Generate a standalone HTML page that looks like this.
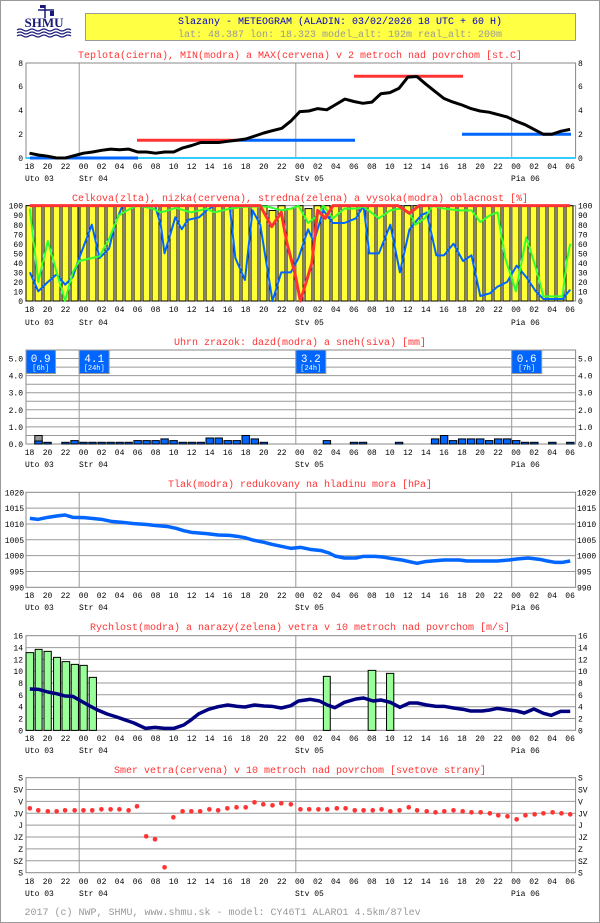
<!DOCTYPE html>
<html><head><meta charset="utf-8"><style>
html,body{margin:0;padding:0;background:#fff}
svg{display:block}
text{font-family:"Liberation Mono",monospace}
.t{font-size:10px;fill:#ff3333;text-anchor:middle}
.hl{font-size:8px;fill:#000;text-anchor:middle}
.dl{font-size:8px;fill:#000}
.yl{font-size:8px;fill:#000;text-anchor:end}
.yr{font-size:8px;fill:#000}
.fr{fill:none;stroke:#888;stroke-width:1}
.g{stroke:#999;stroke-width:1}
.ns{vector-effect:non-scaling-stroke;fill:none;stroke-linejoin:round}
</style></head><body>
<svg width="600" height="923" viewBox="0 0 600 923" xmlns="http://www.w3.org/2000/svg">
<rect x="0.5" y="0.5" width="599" height="922" fill="#fff" stroke="#999"/>
<!-- logo -->
<g fill="#1a1a7a" stroke="#1a1a7a">
<line x1="45" y1="5" x2="45" y2="18" stroke-width="1.5"/>
<line x1="38" y1="10" x2="54" y2="10" stroke-width="1.5"/>
<rect x="40" y="5" width="5" height="3" stroke="none"/>
<rect x="50" y="11" width="4" height="5" stroke="none"/>
<text x="44" y="27" text-anchor="middle" style="font-family:'Liberation Serif',serif;font-size:13px;font-weight:bold" stroke="none">SHMU</text>
<path d="M17 30 q3 -2 6 0 t6 0 t6 0 t6 0 t6 0 t6 0 t6 0 t6 0 t6 0 M17 33 q3 -2 6 0 t6 0 t6 0 t6 0 t6 0 t6 0 t6 0 t6 0 t6 0 M17 36 q3 -2 6 0 t6 0 t6 0 t6 0 t6 0 t6 0 t6 0 t6 0 t6 0" fill="none" stroke-width="1.2"/>
</g>
<rect x="85.5" y="13.5" width="490" height="27" fill="#ffff44" stroke="#999"/>
<text x="340" y="24" style="font-size:10px;fill:#0000cc;text-anchor:middle">Slazany - METEOGRAM (ALADIN: 03/02/2026 18 UTC + 60 H)</text>
<text x="340" y="37" style="font-size:10px;fill:#999;text-anchor:middle">lat: 48.387   lon: 18.323   model_alt: 192m   real_alt: 200m</text>

<!-- ============ TEMPERATURE ============ -->
<text class="t" x="300" y="58">Teplota(cierna), MIN(modra) a MAX(cervena) v 2 metroch nad povrchom [st.C]</text>
<line class="g" x1="79.2" y1="63" x2="79.2" y2="158"/><line class="g" x1="295.8" y1="63" x2="295.8" y2="158"/><line class="g" x1="511.7" y1="63" x2="511.7" y2="158"/>
<rect class="fr" x="26" y="63" width="549.6" height="95"/>
<line x1="26" y1="158" x2="575.6" y2="158" stroke="#33ccff" stroke-width="2"/>
<line x1="30" y1="158" x2="138" y2="158" stroke="#0066ff" stroke-width="3"/>
<line x1="137" y1="140.3" x2="240" y2="140.3" stroke="#ff3333" stroke-width="3"/>
<line x1="240" y1="140.3" x2="355" y2="140.3" stroke="#0066ff" stroke-width="3"/>
<line x1="354" y1="76.3" x2="463" y2="76.3" stroke="#ff3333" stroke-width="3"/>
<line x1="462" y1="134.3" x2="571" y2="134.3" stroke="#0066ff" stroke-width="3"/>
<g transform="translate(3.5,0)"><polyline fill="none" stroke="#000" stroke-width="3" stroke-linejoin="round" points="26,153.2 35,155 44,156.2 53,158 62,158 71,155.6 80,153.2 89.1,152 98.1,150.3 107.1,149.1 116.1,149.7 125.1,149.1 134.1,152 143.1,152 152.1,153.2 161.2,152 170.2,152 179.2,147.9 188.2,145.5 197.2,142.5 206.2,142.5 215.2,142.5 224.2,141.3 233.2,140.2 242.2,139 251.3,136 260.3,133 269.3,130.6 278.3,128.3 287.3,121.1 296.3,111.6 305.3,111 314.3,108.6 323.3,109.8 332.3,104.5 341.4,99.1 350.4,101.5 359.4,103.3 368.4,102.1 377.4,93.7 386.4,92.6 395.4,88.4 404.4,77.1 413.4,76.5 422.4,84.2 431.5,91.4 440.5,98.5 449.5,102.1 458.5,105 467.5,108.6 476.5,111 485.5,112.2 494.5,114.6 503.5,116.9 512.5,121.1 521.6,124.7 530.6,129.4 539.6,134.2 548.6,134.2 557.6,131.2 566.6,129.4"/></g>
<g class="yl"><text x="23" y="161">0</text><text x="23" y="137">2</text><text x="23" y="113">4</text><text x="23" y="89">6</text><text x="23" y="66">8</text></g>
<g class="yr"><text x="578" y="161">0</text><text x="578" y="137">2</text><text x="578" y="113">4</text><text x="578" y="89">6</text><text x="578" y="66">8</text></g>
<text class="hl" y="169"><tspan x="29.5">18</tspan><tspan x="47.5">20</tspan><tspan x="65.5">22</tspan><tspan x="83.6">00</tspan><tspan x="101.6">02</tspan><tspan x="119.6">04</tspan><tspan x="137.6">06</tspan><tspan x="155.6">08</tspan><tspan x="173.7">10</tspan><tspan x="191.7">12</tspan><tspan x="209.7">14</tspan><tspan x="227.7">16</tspan><tspan x="245.7">18</tspan><tspan x="263.8">20</tspan><tspan x="281.8">22</tspan><tspan x="299.8">00</tspan><tspan x="317.8">02</tspan><tspan x="335.8">04</tspan><tspan x="353.9">06</tspan><tspan x="371.9">08</tspan><tspan x="389.9">10</tspan><tspan x="407.9">12</tspan><tspan x="425.9">14</tspan><tspan x="444">16</tspan><tspan x="462">18</tspan><tspan x="480">20</tspan><tspan x="498">22</tspan><tspan x="516">00</tspan><tspan x="534.1">02</tspan><tspan x="552.1">04</tspan><tspan x="570.1">06</tspan></text>
<text class="dl" y="181"><tspan x="25">Uto 03</tspan><tspan x="79">Str 04</tspan><tspan x="295">Stv 05</tspan><tspan x="511">Pia 06</tspan></text>

<!-- ============ CLOUDS ============ -->
<text class="t" x="300" y="201">Celkova(zlta), nizka(cervena), stredna(zelena) a vysoka(modra) oblacnost [%]</text>
<rect class="fr" x="26" y="205.7" width="549.6" height="95.3"/>
<g fill="#ffff33" stroke="#000" stroke-width="1">
<rect x="26" y="205.7" width="7" height="95.3"/><rect x="35" y="205.7" width="7" height="95.3"/><rect x="44" y="205.7" width="7" height="95.3"/><rect x="53" y="205.7" width="7" height="95.3"/><rect x="62" y="205.7" width="7" height="95.3"/><rect x="71" y="205.7" width="7" height="95.3"/><rect x="80" y="205.7" width="7" height="95.3"/><rect x="89" y="205.7" width="7" height="95.3"/><rect x="98" y="205.7" width="7" height="95.3"/><rect x="107" y="205.7" width="7" height="95.3"/>
<rect x="116" y="205.7" width="7" height="95.3"/><rect x="125" y="205.7" width="7" height="95.3"/><rect x="134" y="205.7" width="7" height="95.3"/><rect x="143" y="205.7" width="7" height="95.3"/><rect x="152" y="205.7" width="7" height="95.3"/><rect x="161" y="205.7" width="7" height="95.3"/><rect x="170" y="205.7" width="7" height="95.3"/><rect x="179" y="205.7" width="7" height="95.3"/><rect x="188" y="205.7" width="7" height="95.3"/><rect x="197" y="205.7" width="7" height="95.3"/>
<rect x="206" y="205.7" width="7" height="95.3"/><rect x="215" y="205.7" width="7" height="95.3"/><rect x="224" y="205.7" width="7" height="95.3"/><rect x="233" y="205.7" width="7" height="95.3"/><rect x="242" y="205.7" width="7" height="95.3"/><rect x="251" y="205.7" width="7" height="95.3"/><rect x="260" y="205.7" width="7" height="95.3"/><rect x="269" y="210.5" width="7" height="90.5"/><rect x="278" y="205.7" width="7" height="95.3"/><rect x="287" y="208.6" width="7" height="92.4"/>
<rect x="296" y="205.7" width="7" height="95.3"/><rect x="305" y="208.6" width="7" height="92.4"/><rect x="314" y="205.7" width="7" height="95.3"/><rect x="323" y="205.7" width="7" height="95.3"/><rect x="332" y="205.7" width="7" height="95.3"/><rect x="341" y="205.7" width="7" height="95.3"/><rect x="350" y="205.7" width="7" height="95.3"/><rect x="359" y="205.7" width="7" height="95.3"/><rect x="368" y="205.7" width="7" height="95.3"/><rect x="377" y="205.7" width="7" height="95.3"/>
<rect x="386" y="205.7" width="7" height="95.3"/><rect x="395" y="205.7" width="7" height="95.3"/><rect x="404" y="205.7" width="7" height="95.3"/><rect x="413" y="205.7" width="7" height="95.3"/><rect x="422" y="205.7" width="7" height="95.3"/><rect x="431" y="205.7" width="7" height="95.3"/><rect x="440" y="205.7" width="7" height="95.3"/><rect x="449" y="205.7" width="7" height="95.3"/><rect x="458" y="205.7" width="7" height="95.3"/><rect x="467" y="205.7" width="7" height="95.3"/>
<rect x="476" y="205.7" width="7" height="95.3"/><rect x="485" y="205.7" width="7" height="95.3"/><rect x="494" y="205.7" width="7" height="95.3"/><rect x="503" y="205.7" width="7" height="95.3"/><rect x="512" y="205.7" width="7" height="95.3"/><rect x="521" y="205.7" width="7" height="95.3"/><rect x="530" y="205.7" width="7" height="95.3"/><rect x="539" y="205.7" width="7" height="95.3"/><rect x="548" y="205.7" width="7" height="95.3"/><rect x="557" y="205.7" width="7" height="95.3"/><rect x="566" y="205.7" width="7" height="95.3"/>
</g>
<line x1="79.2" y1="205.7" x2="79.2" y2="301" stroke="#777" stroke-width="1.5"/><line x1="295.8" y1="205.7" x2="295.8" y2="301" stroke="#777" stroke-width="1.5"/><line x1="511.7" y1="205.7" x2="511.7" y2="301" stroke="#777" stroke-width="1.5"/>
<g transform="translate(0,190) scale(0.38270,0.33333)">
<polyline class="ns" stroke="#0066ff" stroke-width="2" points="78,247 100,304 125,276 148,253 170,284 190,261 207,204 240,104 260,204 285,176 300,104 320,47 350,47 380,47 405,47 420,104 430,190 445,133 458,82 475,118 490,90 520,82 540,61 560,47 580,47 600,47 615,204 640,270 660,61 680,104 700,247 712,333 735,247 760,247 780,204 805,118 820,156 845,61 858,82 870,99 900,99 930,85 950,47 965,190 990,190 1020,104 1045,247 1070,118 1100,76 1115,68 1140,196 1160,196 1185,161 1210,213 1232,196 1255,318 1280,310 1300,290 1325,276 1350,227 1375,261 1400,304 1420,327 1440,327 1470,327 1490,299"/>
<polyline class="ns" stroke="#33ff33" stroke-width="2" points="78,56 100,276 125,153 148,247 170,333 190,247 207,213 240,204 260,199 285,147 310,76 340,56 360,47 400,56 420,67 440,61 460,53 480,61 500,67 540,56 560,67 600,56 640,50 680,50 700,50 735,61 760,56 780,47 805,99 830,76 845,47 870,85 900,56 930,56 950,50 990,85 1020,61 1045,56 1070,67 1085,104 1110,85 1130,47 1160,56 1200,61 1232,61 1255,96 1280,76 1300,67 1320,204 1348,304 1375,142 1400,233 1420,319 1440,319 1470,319 1480,219 1490,161"/>
<polyline class="ns" stroke="#ff3333" stroke-width="3" points="78,47 680,47 710,110 735,67 750,161 770,247 785,333 800,276 815,219 830,61 850,85 870,47 1040,47 1070,70 1095,47 1490,47"/>
</g>
<g class="yl"><text x="23" y="304">0</text><text x="23" y="294.5">10</text><text x="23" y="285">20</text><text x="23" y="275.4">30</text><text x="23" y="265.9">40</text><text x="23" y="256.4">50</text><text x="23" y="246.8">60</text><text x="23" y="237.3">70</text><text x="23" y="227.8">80</text><text x="23" y="218.2">90</text><text x="23" y="208.7">100</text></g>
<g class="yr"><text x="578" y="304">0</text><text x="578" y="294.5">10</text><text x="578" y="285">20</text><text x="578" y="275.4">30</text><text x="578" y="265.9">40</text><text x="578" y="256.4">50</text><text x="578" y="246.8">60</text><text x="578" y="237.3">70</text><text x="578" y="227.8">80</text><text x="578" y="218.2">90</text><text x="578" y="208.7">100</text></g>
<text class="hl" y="312"><tspan x="29.5">18</tspan><tspan x="47.5">20</tspan><tspan x="65.5">22</tspan><tspan x="83.6">00</tspan><tspan x="101.6">02</tspan><tspan x="119.6">04</tspan><tspan x="137.6">06</tspan><tspan x="155.6">08</tspan><tspan x="173.7">10</tspan><tspan x="191.7">12</tspan><tspan x="209.7">14</tspan><tspan x="227.7">16</tspan><tspan x="245.7">18</tspan><tspan x="263.8">20</tspan><tspan x="281.8">22</tspan><tspan x="299.8">00</tspan><tspan x="317.8">02</tspan><tspan x="335.8">04</tspan><tspan x="353.9">06</tspan><tspan x="371.9">08</tspan><tspan x="389.9">10</tspan><tspan x="407.9">12</tspan><tspan x="425.9">14</tspan><tspan x="444">16</tspan><tspan x="462">18</tspan><tspan x="480">20</tspan><tspan x="498">22</tspan><tspan x="516">00</tspan><tspan x="534.1">02</tspan><tspan x="552.1">04</tspan><tspan x="570.1">06</tspan></text>
<text class="dl" y="325"><tspan x="25">Uto 03</tspan><tspan x="79">Str 04</tspan><tspan x="295">Stv 05</tspan><tspan x="511">Pia 06</tspan></text>

<!-- ============ PRECIP ============ -->
<text class="t" x="300" y="345">Uhrn zrazok: dazd(modra) a sneh(siva) [mm]</text>
<g class="g"><line x1="26" x2="575.6" y1="435.5" y2="435.5"/><line x1="26" x2="575.6" y1="426.9" y2="426.9"/><line x1="26" x2="575.6" y1="418.4" y2="418.4"/><line x1="26" x2="575.6" y1="409.8" y2="409.8"/><line x1="26" x2="575.6" y1="401.3" y2="401.3"/><line x1="26" x2="575.6" y1="392.7" y2="392.7"/><line x1="26" x2="575.6" y1="384.2" y2="384.2"/><line x1="26" x2="575.6" y1="375.6" y2="375.6"/><line x1="26" x2="575.6" y1="367.1" y2="367.1"/><line x1="26" x2="575.6" y1="358.5" y2="358.5"/>
<line x1="79.2" y1="350" x2="79.2" y2="444"/><line x1="295.8" y1="350" x2="295.8" y2="444"/><line x1="511.7" y1="350" x2="511.7" y2="444"/></g>
<rect class="fr" x="26" y="350" width="549.6" height="94"/>
<g fill="#0066ff" stroke="#000" stroke-width="1">
<rect x="34.8" y="435.5" width="7.4" height="8.5" fill="#999"/><rect x="34.8" y="441" width="7.4" height="3"/>
<rect x="43.8" y="442.3" width="7.4" height="1.7"/>
<rect x="61.8" y="442.3" width="7.4" height="1.7"/><rect x="70.8" y="440.6" width="7.4" height="3.4"/>
<rect x="79.8" y="442.3" width="7.4" height="1.7"/><rect x="88.8" y="442.3" width="7.4" height="1.7"/><rect x="97.9" y="442.3" width="7.4" height="1.7"/><rect x="106.9" y="442.3" width="7.4" height="1.7"/><rect x="115.9" y="442.3" width="7.4" height="1.7"/><rect x="124.9" y="442.3" width="7.4" height="1.7"/>
<rect x="133.9" y="440.6" width="7.4" height="3.4"/><rect x="142.9" y="440.6" width="7.4" height="3.4"/><rect x="151.9" y="440.6" width="7.4" height="3.4"/><rect x="160.9" y="438.9" width="7.4" height="5.1"/><rect x="169.9" y="440.6" width="7.4" height="3.4"/><rect x="179" y="442.3" width="7.4" height="1.7"/><rect x="188" y="442.3" width="7.4" height="1.7"/><rect x="197" y="442.3" width="7.4" height="1.7"/>
<rect x="206" y="438" width="7.4" height="6"/><rect x="215" y="438" width="7.4" height="6"/><rect x="224" y="440.6" width="7.4" height="3.4"/><rect x="233" y="440.6" width="7.4" height="3.4"/><rect x="242" y="435.5" width="7.4" height="8.5"/><rect x="251.1" y="438.9" width="7.4" height="5.1"/><rect x="260.1" y="442.3" width="7.4" height="1.7"/>
<rect x="323.2" y="440.6" width="7.4" height="3.4"/><rect x="350.3" y="442.3" width="7.4" height="1.7"/><rect x="359.3" y="442.3" width="7.4" height="1.7"/><rect x="395.4" y="442.3" width="7.4" height="1.7"/>
<rect x="431.4" y="438.9" width="7.4" height="5.1"/><rect x="440.4" y="435.5" width="7.4" height="8.5"/><rect x="449.4" y="440.6" width="7.4" height="3.4"/><rect x="458.4" y="438.9" width="7.4" height="5.1"/><rect x="467.5" y="438.9" width="7.4" height="5.1"/><rect x="476.5" y="438.9" width="7.4" height="5.1"/><rect x="485.5" y="440.6" width="7.4" height="3.4"/><rect x="494.5" y="438.9" width="7.4" height="5.1"/><rect x="503.5" y="438.9" width="7.4" height="5.1"/>
<rect x="512.5" y="440.6" width="7.4" height="3.4"/><rect x="521.5" y="442.3" width="7.4" height="1.7"/><rect x="530.6" y="442.3" width="7.4" height="1.7"/><rect x="548.6" y="442.3" width="7.4" height="1.7"/><rect x="566.6" y="442.3" width="7.4" height="1.7"/>
</g>
<g fill="#0066ff" stroke="#999" stroke-width="1">
<rect x="26" y="350" width="29.5" height="23.5"/><rect x="79.2" y="350" width="30" height="23.5"/><rect x="295.8" y="350" width="30" height="23.5"/><rect x="511.7" y="350" width="30" height="23.5"/></g>
<g fill="#fff" text-anchor="middle">
<text x="40.7" y="362" style="font-size:11px">0.9</text><text x="40.7" y="370" style="font-size:7px">[6h]</text>
<text x="94.2" y="362" style="font-size:11px">4.1</text><text x="94.2" y="370" style="font-size:7px">[24h]</text>
<text x="310.8" y="362" style="font-size:11px">3.2</text><text x="310.8" y="370" style="font-size:7px">[24h]</text>
<text x="526.7" y="362" style="font-size:11px">0.6</text><text x="526.7" y="370" style="font-size:7px">[7h]</text></g>
<g class="yl"><text x="23" y="447">0.0</text><text x="23" y="429.9">1.0</text><text x="23" y="412.8">2.0</text><text x="23" y="395.7">3.0</text><text x="23" y="378.6">4.0</text><text x="23" y="361.5">5.0</text></g>
<g class="yr"><text x="578" y="447">0.0</text><text x="578" y="429.9">1.0</text><text x="578" y="412.8">2.0</text><text x="578" y="395.7">3.0</text><text x="578" y="378.6">4.0</text><text x="578" y="361.5">5.0</text></g>
<text class="hl" y="455"><tspan x="29.5">18</tspan><tspan x="47.5">20</tspan><tspan x="65.5">22</tspan><tspan x="83.6">00</tspan><tspan x="101.6">02</tspan><tspan x="119.6">04</tspan><tspan x="137.6">06</tspan><tspan x="155.6">08</tspan><tspan x="173.7">10</tspan><tspan x="191.7">12</tspan><tspan x="209.7">14</tspan><tspan x="227.7">16</tspan><tspan x="245.7">18</tspan><tspan x="263.8">20</tspan><tspan x="281.8">22</tspan><tspan x="299.8">00</tspan><tspan x="317.8">02</tspan><tspan x="335.8">04</tspan><tspan x="353.9">06</tspan><tspan x="371.9">08</tspan><tspan x="389.9">10</tspan><tspan x="407.9">12</tspan><tspan x="425.9">14</tspan><tspan x="444">16</tspan><tspan x="462">18</tspan><tspan x="480">20</tspan><tspan x="498">22</tspan><tspan x="516">00</tspan><tspan x="534.1">02</tspan><tspan x="552.1">04</tspan><tspan x="570.1">06</tspan></text>
<text class="dl" y="467"><tspan x="25">Uto 03</tspan><tspan x="79">Str 04</tspan><tspan x="295">Stv 05</tspan><tspan x="511">Pia 06</tspan></text>

<!-- ============ PRESSURE ============ -->
<text class="t" x="300" y="487">Tlak(modra) redukovany na hladinu mora [hPa]</text>
<g class="g"><line x1="26" x2="575.6" y1="571.5" y2="571.5"/><line x1="26" x2="575.6" y1="555.6" y2="555.6"/><line x1="26" x2="575.6" y1="539.8" y2="539.8"/><line x1="26" x2="575.6" y1="524" y2="524"/><line x1="26" x2="575.6" y1="508.1" y2="508.1"/>
<line x1="79.2" y1="492.3" x2="79.2" y2="587.3"/><line x1="295.8" y1="492.3" x2="295.8" y2="587.3"/><line x1="511.7" y1="492.3" x2="511.7" y2="587.3"/></g>
<rect class="fr" x="26" y="492.3" width="549.6" height="95"/>
<g transform="translate(0,470) scale(0.38270,0.33333)">
<polyline class="ns" stroke="#0066ff" stroke-width="3.5" points="78,145 100,148 125,142 148,138 170,135 190,142 220,143 240,145 265,148 290,154 320,157 350,161 380,163 410,167 440,170 460,175 480,182 500,187 540,191 570,195 600,196 620,199 640,203 660,210 690,217 710,223 735,229 760,235 785,232 810,238 840,242 860,249 875,258 900,264 930,264 950,259 980,259 1000,261 1020,265 1050,270 1070,275 1090,280 1110,275 1140,272 1160,270 1200,270 1220,273 1260,273 1300,273 1330,270 1350,267 1380,264 1410,268 1430,273 1450,277 1470,277 1490,273"/>
</g>
<g class="yl"><text x="24" y="590.3">990</text><text x="24" y="574.5">995</text><text x="24" y="558.6">1000</text><text x="24" y="542.8">1005</text><text x="24" y="527">1010</text><text x="24" y="511.1">1015</text><text x="24" y="495.3">1020</text></g>
<g class="yr"><text x="577" y="590.3">990</text><text x="577" y="574.5">995</text><text x="577" y="558.6">1000</text><text x="577" y="542.8">1005</text><text x="577" y="527">1010</text><text x="577" y="511.1">1015</text><text x="577" y="495.3">1020</text></g>
<text class="hl" y="598"><tspan x="29.5">18</tspan><tspan x="47.5">20</tspan><tspan x="65.5">22</tspan><tspan x="83.6">00</tspan><tspan x="101.6">02</tspan><tspan x="119.6">04</tspan><tspan x="137.6">06</tspan><tspan x="155.6">08</tspan><tspan x="173.7">10</tspan><tspan x="191.7">12</tspan><tspan x="209.7">14</tspan><tspan x="227.7">16</tspan><tspan x="245.7">18</tspan><tspan x="263.8">20</tspan><tspan x="281.8">22</tspan><tspan x="299.8">00</tspan><tspan x="317.8">02</tspan><tspan x="335.8">04</tspan><tspan x="353.9">06</tspan><tspan x="371.9">08</tspan><tspan x="389.9">10</tspan><tspan x="407.9">12</tspan><tspan x="425.9">14</tspan><tspan x="444">16</tspan><tspan x="462">18</tspan><tspan x="480">20</tspan><tspan x="498">22</tspan><tspan x="516">00</tspan><tspan x="534.1">02</tspan><tspan x="552.1">04</tspan><tspan x="570.1">06</tspan></text>
<text class="dl" y="610"><tspan x="25">Uto 03</tspan><tspan x="79">Str 04</tspan><tspan x="295">Stv 05</tspan><tspan x="511">Pia 06</tspan></text>

<!-- ============ WIND SPEED ============ -->
<text class="t" x="300" y="630">Rychlost(modra) a narazy(zelena) vetra v 10 metroch nad povrchom [m/s]</text>
<g class="g"><line x1="26" x2="575.6" y1="718.5" y2="718.5"/><line x1="26" x2="575.6" y1="706.7" y2="706.7"/><line x1="26" x2="575.6" y1="694.8" y2="694.8"/><line x1="26" x2="575.6" y1="683" y2="683"/><line x1="26" x2="575.6" y1="671.2" y2="671.2"/><line x1="26" x2="575.6" y1="659.4" y2="659.4"/><line x1="26" x2="575.6" y1="647.6" y2="647.6"/>
<line x1="79.2" y1="635.7" x2="79.2" y2="730.3"/><line x1="295.8" y1="635.7" x2="295.8" y2="730.3"/><line x1="511.7" y1="635.7" x2="511.7" y2="730.3"/></g>
<rect class="fr" x="26" y="635.7" width="549.6" height="94.6"/>
<g transform="translate(0,615) scale(0.38270,0.33333)">
<g fill="#99ff99" stroke="#000" stroke-width="1" style="vector-effect:non-scaling-stroke">
<rect x="68" y="113" width="20" height="233" vector-effect="non-scaling-stroke"/><rect x="92" y="103" width="18" height="243" vector-effect="non-scaling-stroke"/><rect x="115" y="109" width="19" height="237" vector-effect="non-scaling-stroke"/><rect x="140" y="127" width="18" height="219" vector-effect="non-scaling-stroke"/><rect x="162" y="140" width="20" height="206" vector-effect="non-scaling-stroke"/><rect x="186" y="148" width="19" height="198" vector-effect="non-scaling-stroke"/><rect x="209" y="151" width="19" height="195" vector-effect="non-scaling-stroke"/><rect x="233" y="187" width="19" height="159" vector-effect="non-scaling-stroke"/>
<rect x="845" y="184" width="18" height="162" vector-effect="non-scaling-stroke"/><rect x="962" y="166" width="20" height="180" vector-effect="non-scaling-stroke"/><rect x="1010" y="175" width="19" height="171" vector-effect="non-scaling-stroke"/>
</g>
<polyline class="ns" stroke="#000080" stroke-width="3.5" points="78,222 100,223 125,231 148,236 170,243 190,244 207,255 230,270 255,285 280,297 305,306 330,316 350,324 380,340 405,337 430,340 455,340 480,330 500,314 520,296 545,283 570,275 595,270 620,274 640,276 665,270 690,273 710,274 735,279 760,272 780,258 810,253 835,258 855,270 875,278 900,262 930,252 950,249 975,258 995,255 1020,262 1045,277 1070,264 1090,264 1115,270 1140,274 1160,274 1185,279 1210,283 1230,288 1260,288 1280,285 1300,280 1330,285 1350,288 1370,294 1395,282 1420,295 1440,301 1465,289 1490,289"/>
</g>
<g class="yl"><text x="23" y="733.3">0</text><text x="23" y="721.5">2</text><text x="23" y="709.7">4</text><text x="23" y="697.8">6</text><text x="23" y="686">8</text><text x="23" y="674.2">10</text><text x="23" y="662.4">12</text><text x="23" y="650.6">14</text><text x="23" y="638.7">16</text></g>
<g class="yr"><text x="578" y="733.3">0</text><text x="578" y="721.5">2</text><text x="578" y="709.7">4</text><text x="578" y="697.8">6</text><text x="578" y="686">8</text><text x="578" y="674.2">10</text><text x="578" y="662.4">12</text><text x="578" y="650.6">14</text><text x="578" y="638.7">16</text></g>
<text class="hl" y="741"><tspan x="29.5">18</tspan><tspan x="47.5">20</tspan><tspan x="65.5">22</tspan><tspan x="83.6">00</tspan><tspan x="101.6">02</tspan><tspan x="119.6">04</tspan><tspan x="137.6">06</tspan><tspan x="155.6">08</tspan><tspan x="173.7">10</tspan><tspan x="191.7">12</tspan><tspan x="209.7">14</tspan><tspan x="227.7">16</tspan><tspan x="245.7">18</tspan><tspan x="263.8">20</tspan><tspan x="281.8">22</tspan><tspan x="299.8">00</tspan><tspan x="317.8">02</tspan><tspan x="335.8">04</tspan><tspan x="353.9">06</tspan><tspan x="371.9">08</tspan><tspan x="389.9">10</tspan><tspan x="407.9">12</tspan><tspan x="425.9">14</tspan><tspan x="444">16</tspan><tspan x="462">18</tspan><tspan x="480">20</tspan><tspan x="498">22</tspan><tspan x="516">00</tspan><tspan x="534.1">02</tspan><tspan x="552.1">04</tspan><tspan x="570.1">06</tspan></text>
<text class="dl" y="753"><tspan x="25">Uto 03</tspan><tspan x="79">Str 04</tspan><tspan x="295">Stv 05</tspan><tspan x="511">Pia 06</tspan></text>

<!-- ============ WIND DIRECTION ============ -->
<text class="t" x="300" y="773">Smer vetra(cervena) v 10 metroch nad povrchom [svetove strany]</text>
<g class="g"><line x1="26" x2="575.6" y1="789.5" y2="789.5"/><line x1="26" x2="575.6" y1="801.4" y2="801.4"/><line x1="26" x2="575.6" y1="813.3" y2="813.3"/><line x1="26" x2="575.6" y1="825.1" y2="825.1"/><line x1="26" x2="575.6" y1="837" y2="837"/><line x1="26" x2="575.6" y1="848.9" y2="848.9"/><line x1="26" x2="575.6" y1="860.8" y2="860.8"/>
<line x1="79.2" y1="777.7" x2="79.2" y2="872.7"/><line x1="295.8" y1="777.7" x2="295.8" y2="872.7"/><line x1="511.7" y1="777.7" x2="511.7" y2="872.7"/></g>
<rect class="fr" x="26" y="777.7" width="549.6" height="95"/>
<g transform="translate(0,760) scale(0.38270,0.33333)" fill="#ff3333">
<ellipse cx="78" cy="145" rx="6" ry="7"/><ellipse cx="100" cy="151" rx="6" ry="7"/><ellipse cx="125" cy="154" rx="6" ry="7"/><ellipse cx="148" cy="154" rx="6" ry="7"/><ellipse cx="170" cy="151" rx="6" ry="7"/><ellipse cx="195" cy="151" rx="6" ry="7"/><ellipse cx="218" cy="151" rx="6" ry="7"/><ellipse cx="241" cy="151" rx="6" ry="7"/><ellipse cx="265" cy="148" rx="6" ry="7"/><ellipse cx="289" cy="148" rx="6" ry="7"/><ellipse cx="312" cy="148" rx="6" ry="7"/><ellipse cx="336" cy="151" rx="6" ry="7"/><ellipse cx="358" cy="139" rx="6" ry="7"/><ellipse cx="382" cy="229" rx="6" ry="7"/><ellipse cx="405" cy="238" rx="6" ry="7"/><ellipse cx="430" cy="322" rx="6" ry="7"/><ellipse cx="453" cy="172" rx="6" ry="7"/><ellipse cx="477" cy="154" rx="6" ry="7"/><ellipse cx="500" cy="154" rx="6" ry="7"/><ellipse cx="523" cy="154" rx="6" ry="7"/><ellipse cx="547" cy="148" rx="6" ry="7"/><ellipse cx="570" cy="151" rx="6" ry="7"/><ellipse cx="594" cy="145" rx="6" ry="7"/><ellipse cx="618" cy="142" rx="6" ry="7"/><ellipse cx="642" cy="142" rx="6" ry="7"/><ellipse cx="665" cy="127" rx="6" ry="7"/><ellipse cx="688" cy="133" rx="6" ry="7"/><ellipse cx="712" cy="136" rx="6" ry="7"/><ellipse cx="735" cy="130" rx="6" ry="7"/><ellipse cx="760" cy="133" rx="6" ry="7"/><ellipse cx="785" cy="148" rx="6" ry="7"/><ellipse cx="808" cy="148" rx="6" ry="7"/><ellipse cx="832" cy="148" rx="6" ry="7"/><ellipse cx="855" cy="148" rx="6" ry="7"/><ellipse cx="880" cy="145" rx="6" ry="7"/><ellipse cx="903" cy="145" rx="6" ry="7"/><ellipse cx="927" cy="151" rx="6" ry="7"/><ellipse cx="950" cy="151" rx="6" ry="7"/><ellipse cx="974" cy="151" rx="6" ry="7"/><ellipse cx="997" cy="148" rx="6" ry="7"/><ellipse cx="1020" cy="154" rx="6" ry="7"/><ellipse cx="1044" cy="151" rx="6" ry="7"/><ellipse cx="1068" cy="142" rx="6" ry="7"/><ellipse cx="1090" cy="151" rx="6" ry="7"/><ellipse cx="1115" cy="154" rx="6" ry="7"/><ellipse cx="1138" cy="157" rx="6" ry="7"/><ellipse cx="1161" cy="154" rx="6" ry="7"/><ellipse cx="1185" cy="151" rx="6" ry="7"/><ellipse cx="1209" cy="154" rx="6" ry="7"/><ellipse cx="1232" cy="157" rx="6" ry="7"/><ellipse cx="1256" cy="157" rx="6" ry="7"/><ellipse cx="1280" cy="160" rx="6" ry="7"/><ellipse cx="1302" cy="166" rx="6" ry="7"/><ellipse cx="1326" cy="169" rx="6" ry="7"/><ellipse cx="1350" cy="178" rx="6" ry="7"/><ellipse cx="1373" cy="166" rx="6" ry="7"/><ellipse cx="1397" cy="163" rx="6" ry="7"/><ellipse cx="1420" cy="160" rx="6" ry="7"/><ellipse cx="1444" cy="157" rx="6" ry="7"/><ellipse cx="1467" cy="160" rx="6" ry="7"/><ellipse cx="1490" cy="163" rx="6" ry="7"/>
</g>
<g class="yl"><text x="23" y="780.7">S</text><text x="23" y="792.5">SV</text><text x="23" y="804.4">V</text><text x="23" y="816.3">JV</text><text x="23" y="828.1">J</text><text x="23" y="840">JZ</text><text x="23" y="851.9">Z</text><text x="23" y="863.8">SZ</text><text x="23" y="875.7">S</text></g>
<g class="yr"><text x="578" y="780.7">S</text><text x="578" y="792.5">SV</text><text x="578" y="804.4">V</text><text x="578" y="816.3">JV</text><text x="578" y="828.1">J</text><text x="578" y="840">JZ</text><text x="578" y="851.9">Z</text><text x="578" y="863.8">SZ</text><text x="578" y="875.7">S</text></g>
<text class="hl" y="884"><tspan x="29.5">18</tspan><tspan x="47.5">20</tspan><tspan x="65.5">22</tspan><tspan x="83.6">00</tspan><tspan x="101.6">02</tspan><tspan x="119.6">04</tspan><tspan x="137.6">06</tspan><tspan x="155.6">08</tspan><tspan x="173.7">10</tspan><tspan x="191.7">12</tspan><tspan x="209.7">14</tspan><tspan x="227.7">16</tspan><tspan x="245.7">18</tspan><tspan x="263.8">20</tspan><tspan x="281.8">22</tspan><tspan x="299.8">00</tspan><tspan x="317.8">02</tspan><tspan x="335.8">04</tspan><tspan x="353.9">06</tspan><tspan x="371.9">08</tspan><tspan x="389.9">10</tspan><tspan x="407.9">12</tspan><tspan x="425.9">14</tspan><tspan x="444">16</tspan><tspan x="462">18</tspan><tspan x="480">20</tspan><tspan x="498">22</tspan><tspan x="516">00</tspan><tspan x="534.1">02</tspan><tspan x="552.1">04</tspan><tspan x="570.1">06</tspan></text>
<text class="dl" y="896"><tspan x="25">Uto 03</tspan><tspan x="79">Str 04</tspan><tspan x="295">Stv 05</tspan><tspan x="511">Pia 06</tspan></text>

<text x="24.5" y="915" style="font-size:10px;fill:#999">2017 (c) NWP, SHMU, www.shmu.sk - model: CY46T1 ALARO1 4.5km/87lev</text>
</svg>
</body></html>
